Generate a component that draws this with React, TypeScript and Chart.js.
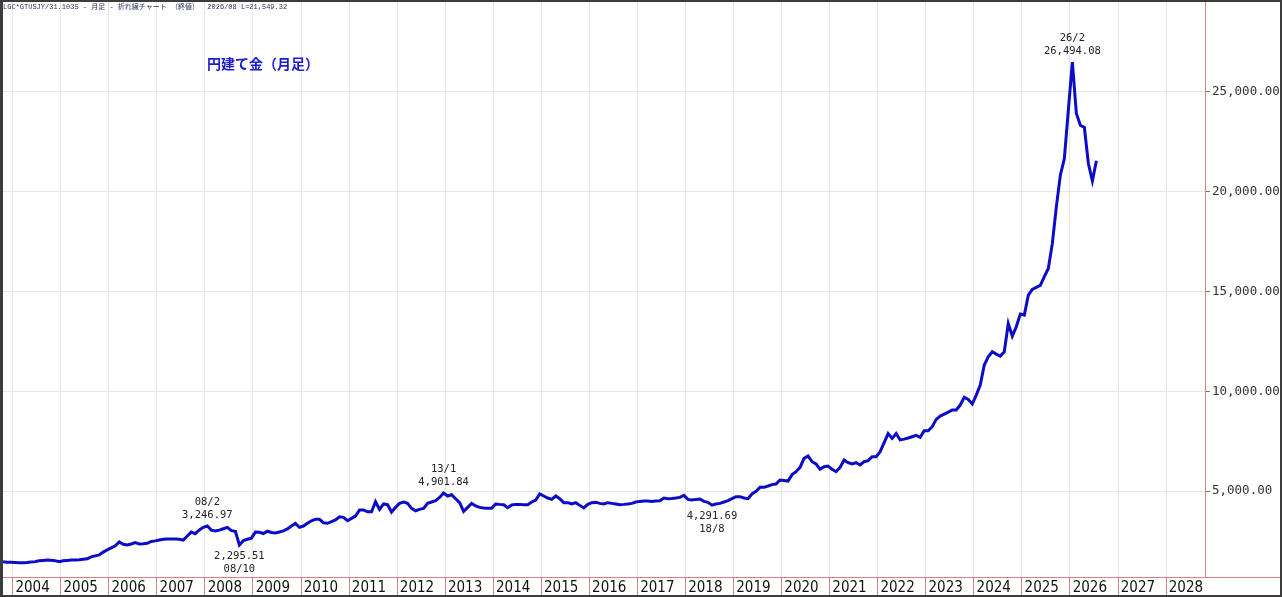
import React, { useEffect, useRef } from "react";
import { Chart, registerables } from "chart.js";

Chart.register(...registerables);

// monthly closes, yen per gram, first value is 2003/11
const START_YEAR = 2003;
const START_MONTH = 11;

const closes2003 = [1460, 1430];
const closes2004 = [1430, 1420, 1410, 1405, 1420, 1440, 1460, 1500, 1520, 1540, 1530, 1510];
const closes2005 = [1460, 1500, 1520, 1543, 1543, 1550, 1575, 1600, 1700, 1750, 1795, 1940];
const closes2006 = [2050, 2150, 2250, 2445, 2330, 2300, 2345, 2410, 2350, 2360, 2378, 2470];
const closes2007 = [2500, 2540, 2578, 2590, 2595, 2590, 2580, 2540, 2745, 2940, 2860, 3050];
const closes2008 = [3180, 3246.97, 3040, 2996, 3040, 3110, 3180, 3013, 2980, 2295.51, 2512, 2580];
const closes2009 = [2640, 2940, 2930, 2870, 2985, 2920, 2900, 2946, 3000, 3100, 3250, 3380];
const closes2010 = [3180, 3245, 3380, 3510, 3580, 3580, 3410, 3380, 3460, 3550, 3710, 3680];
const closes2011 = [3510, 3630, 3745, 4050, 4050, 3960, 3960, 4465, 4080, 4350, 4315, 3945];
const closes2012 = [4180, 4380, 4450, 4380, 4130, 4010, 4080, 4130, 4380, 4450, 4515, 4680];
const closes2013 = [4901.84, 4750, 4815, 4615, 4415, 3980, 4180, 4380, 4250, 4180, 4145, 4130];
const closes2014 = [4130, 4350, 4330, 4315, 4165, 4300, 4330, 4330, 4315, 4315, 4450, 4550];
const closes2015 = [4850, 4750, 4650, 4580, 4750, 4615, 4415, 4415, 4350, 4415, 4280, 4150];
const closes2016 = [4330, 4415, 4430, 4380, 4350, 4415, 4380, 4350, 4315, 4330, 4350, 4380];
const closes2017 = [4450, 4480, 4500, 4500, 4480, 4500, 4515, 4650, 4615, 4630, 4650, 4680];
const closes2018 = [4783, 4580, 4550, 4580, 4600, 4480, 4430, 4291.69, 4350, 4380, 4450, 4515];
const closes2019 = [4615, 4716, 4716, 4650, 4615, 4850, 4985, 5185, 5185, 5250, 5320, 5350];
const closes2020 = [5550, 5530, 5500, 5820, 5968, 6186, 6637, 6753, 6470, 6353, 6086, 6219];
const closes2021 = [6253, 6086, 5968, 6186, 6553, 6420, 6353, 6420, 6303, 6470, 6520, 6720];
const closes2022 = [6720, 6970, 7421, 7880, 7640, 7880, 7560, 7600, 7656, 7722, 7789, 7689];
const closes2023 = [8023, 8023, 8223, 8590, 8757, 8858, 8958, 9058, 9058, 9308, 9693, 9592];
const closes2024 = [9358, 9810, 10310, 11313, 11730, 11980, 11864, 11763, 11980, 13400, 12765, 13233];
const closes2025 = [13868, 13818, 14820, 15103, 15203, 15304, 15740, 16155, 17410, 19245, 20830, 21666];
const closes2026 = [24100, 26494.08, 23920, 23336, 23220, 21416, 20548, 21549.32];

const closes = [
    ...closes2003, ...closes2004, ...closes2005, ...closes2006, ...closes2007,
    ...closes2008, ...closes2009, ...closes2010, ...closes2011, ...closes2012,
    ...closes2013, ...closes2014, ...closes2015, ...closes2016, ...closes2017,
    ...closes2018, ...closes2019, ...closes2020, ...closes2021, ...closes2022,
    ...closes2023, ...closes2024, ...closes2025, ...closes2026,
];

// high / low marks written on the chart
const marks = [
    { year: 2008, month: 2, label: "08/2", side: "above" },
    { year: 2008, month: 10, label: "08/10", side: "below" },
    { year: 2013, month: 1, label: "13/1", side: "above" },
    { year: 2018, month: 8, label: "18/8", side: "below" },
    { year: 2026, month: 2, label: "26/2", side: "above" },
];

const yTicks = [5000, 10000, 15000, 20000, 25000];

const AXIS_RED = "#d98080";

const monthIndex = (year: number, month: number) =>
    (year - START_YEAR) * 12 + (month - START_MONTH);

const points = closes.map((v, i) => {
    const m = START_MONTH - 1 + i;
    const year = START_YEAR + Math.floor(m / 12);
    const month = m % 12;
    return { x: year + (month - 0.4) / 12, y: v };
});

const fmt2 = (v: number) =>
    v.toLocaleString("en-US", { minimumFractionDigits: 2, maximumFractionDigits: 2 });

const markLabels = {
    id: "markLabels",
    afterDatasetsDraw(chart: any) {
        const meta = chart.getDatasetMeta(0);
        const ctx = chart.ctx;
        ctx.save();
        ctx.font = "10.5px 'DejaVu Sans Mono', monospace";
        ctx.fillStyle = "#222";
        ctx.textAlign = "center";
        ctx.textBaseline = "middle";
        marks.forEach((m) => {
            const i = monthIndex(m.year, m.month);
            const pt = meta.data[i];
            if (!pt) return;
            const value = fmt2(closes[i]);
            const lines = m.side === "above" ? [m.label, value] : [value, m.label];
            const y0 = m.side === "above" ? pt.y - 24 : pt.y + 11;
            lines.forEach((t, k) => ctx.fillText(t, pt.x, y0 + k * 13));
        });
        ctx.restore();
    },
};

// the date strip's top rule runs across the whole width
const stripRule = {
    id: "stripRule",
    afterDraw(chart: any) {
        const { ctx, chartArea, width } = chart;
        ctx.save();
        ctx.strokeStyle = AXIS_RED;
        ctx.lineWidth = 1;
        ctx.beginPath();
        ctx.moveTo(0, chartArea.bottom + 0.5);
        ctx.lineTo(width, chartArea.bottom + 0.5);
        ctx.stroke();
        ctx.restore();
    },
};

const GoldChart: React.FC = () => {
    const chartRef = useRef<HTMLCanvasElement | null>(null);
    const chartInstance = useRef<Chart | null>(null);

    useEffect(() => {
        document.body.style.margin = "0";
        if (chartInstance.current) {
            chartInstance.current.destroy();
        }
        const ctx = chartRef.current?.getContext("2d");
        if (!ctx) return;

        chartInstance.current = new Chart(ctx, {
            type: "line",
            data: {
                datasets: [
                    {
                        data: points,
                        borderColor: "#0c0cc8",
                        borderWidth: 3,
                        pointRadius: 0,
                        tension: 0,
                        fill: false,
                    },
                ],
            },
            options: {
                animation: false,
                responsive: true,
                maintainAspectRatio: false,
                layout: { padding: 0 },
                plugins: {
                    legend: { display: false },
                    tooltip: { enabled: false },
                },
                scales: {
                    x: {
                        type: "linear",
                        min: 2003.798,
                        max: 2028.81,
                        afterFit: (scale: any) => {
                            scale.height = 18;
                            scale.paddingLeft = 0;
                            scale.paddingRight = 0;
                        },
                        ticks: {
                            stepSize: 1,
                            includeBounds: false,
                            autoSkip: false,
                            maxRotation: 0,
                            align: "start",
                            padding: -16,
                            color: "#111",
                            font: { family: "'Liberation Sans Narrow', 'DejaVu Sans Condensed', sans-serif", size: 15 },
                            callback: (v: any) => "\u2009" + String(v),
                        },
                        grid: {
                            color: "#e6e6e6",
                            tickColor: AXIS_RED,
                            tickLength: 18,
                        },
                        border: { color: AXIS_RED },
                    },
                    y: {
                        type: "linear",
                        position: "right",
                        min: 690,
                        max: 29510,
                        afterFit: (scale: any) => {
                            scale.width = 75;
                            scale.paddingTop = 0;
                            scale.paddingBottom = 0;
                        },
                        afterBuildTicks: (scale: any) => {
                            scale.ticks = yTicks.map((v) => ({ value: v }));
                        },
                        ticks: {
                            padding: 2,
                            color: "#333",
                            font: { family: "'DejaVu Sans Mono', monospace", size: 12.5 },
                            callback: (v: any) => fmt2(Number(v)),
                        },
                        grid: {
                            color: "#e6e6e6",
                            tickColor: "#777",
                            tickLength: 5,
                        },
                        border: { color: AXIS_RED },
                    },
                },
            },
            plugins: [markLabels, stripRule],
        });

        return () => {
            if (chartInstance.current) {
                chartInstance.current.destroy();
                chartInstance.current = null;
            }
        };
    }, []);

    return (
        <div
            style={{
                position: "relative",
                width: 1282,
                height: 597,
                boxSizing: "border-box",
                border: "2px solid #3c3c3c",
                borderLeftWidth: 3,
                background: "#fff",
            }}
        >
            <div style={{ position: "absolute", left: 0, top: 0, width: 1277, height: 593 }}>
                <canvas ref={chartRef}></canvas>
            </div>
            <div
                style={{
                    position: "absolute",
                    left: 0,
                    top: 1,
                    fontFamily: "'Liberation Mono', 'Noto Sans CJK JP', monospace",
                    fontSize: 7,
                    color: "#27325a",
                    whiteSpace: "pre",
                    lineHeight: "9px",
                }}
            >
                {"LGC*GTUSJY/31.1035 - 月足 - 折れ線チャート （終値）  2026/08 L=21,549.32"}
            </div>
            <div
                style={{
                    position: "absolute",
                    left: 204,
                    top: 51,
                    fontFamily: "'Noto Sans CJK JP', sans-serif",
                    fontWeight: 700,
                    fontSize: 14,
                    color: "#1c1ccf",
                    whiteSpace: "pre",
                }}
            >
                円建て金（月足）
            </div>
        </div>
    );
};

export default function App() {
    return <GoldChart />;
}
